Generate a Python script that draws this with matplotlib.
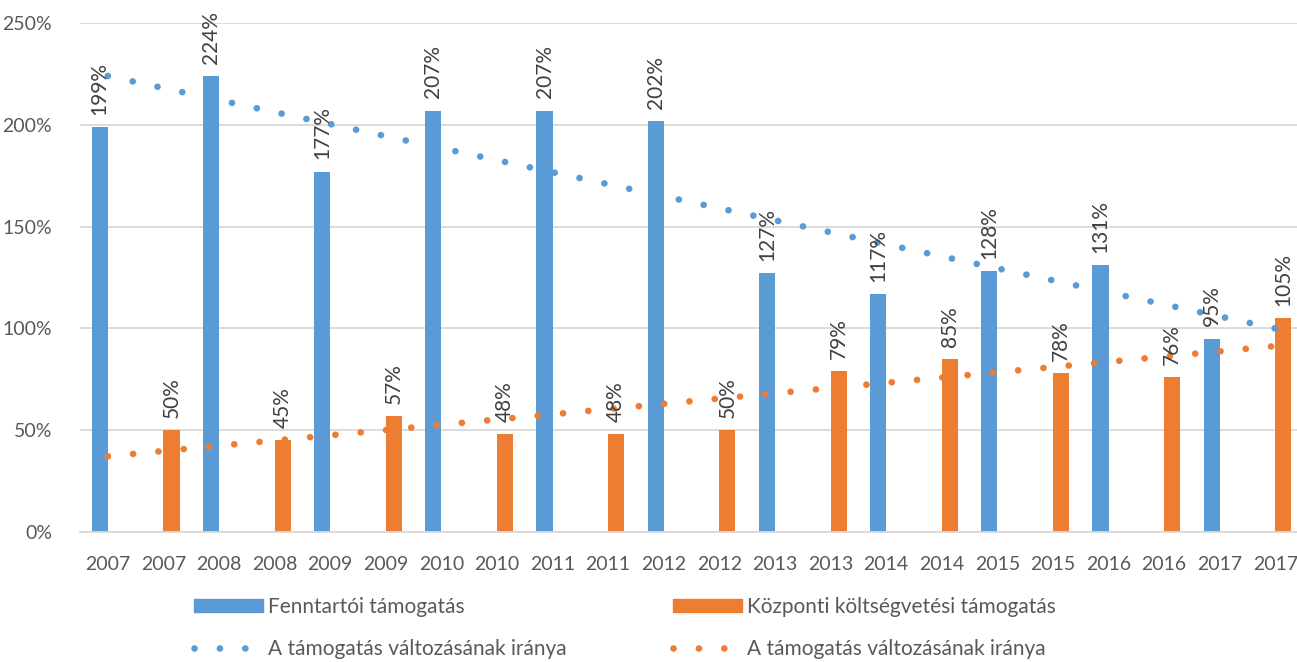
"""
Fenntartói és központi költségvetési támogatás aránya, 2007-2017,
oszlopdiagram lineáris trendvonalakkal.
"""

import matplotlib
matplotlib.use("Agg")
import matplotlib.pyplot as plt
from matplotlib.patches import Patch
from matplotlib.lines import Line2D
import numpy as np

plt.rcParams['font.family'] = ['Lato', 'DejaVu Sans']

categories = ['2007', '2007', '2008', '2008', '2009', '2009', '2010', '2010',
              '2011', '2011', '2012', '2012', '2013', '2013', '2014', '2014',
              '2015', '2015', '2016', '2016', '2017', '2017']

# blue bars sit on even categories, orange bars on odd ones
fenntartoi = [199, 224, 177, 207, 207, 202, 127, 117, 128, 131, 95]
kozponti = [50, 45, 57, 48, 48, 50, 79, 85, 78, 76, 105]

labels = ['Fenntartói támogatás', 'Központi költségvetési támogatás',
          'A támogatás változásának iránya']

BLUE = '#5B9BD5'
ORANGE = '#ED7D31'
TEXT = '#595959'
GRID = '#D9D9D9'

W, H = 1297, 662
fig = plt.figure(figsize=(W / 100, H / 100), dpi=100)
ax = fig.add_axes([80 / W, 130 / H, (W - 80) / W, 509 / H])

x = np.arange(len(categories))
xb = x[0::2]
xo = x[1::2]
bw = 0.29

ax.bar(xb - bw / 2, fenntartoi, width=bw, color=BLUE, zorder=2)
ax.bar(xo + bw / 2, kozponti, width=bw, color=ORANGE, zorder=2)

for xs, vals in [(xb - bw / 2, fenntartoi), (xo + bw / 2, kozponti)]:
    for xi, v in zip(xs, vals):
        ax.text(xi, v + 6, f'{v}%', rotation=90, ha='center', va='bottom',
                fontsize=15, color='#404040', zorder=4)

# linear trend lines over the category positions (like Excel)
dot_style = dict(linewidth=4.8, linestyle=(0, (0.01, 3.8)),
                 dash_capstyle='round')
for xs, ys, c in [(xb, fenntartoi, BLUE), (xo, kozponti, ORANGE)]:
    k, b = np.polyfit(xs, ys, 1)
    ax.plot([x[0], x[-1]], [k * x[0] + b, k * x[-1] + b], color=c,
            zorder=3, **dot_style)

ax.set_xlim(-0.5, 21.39)
ax.set_ylim(0, 250)
ax.set_yticks(np.arange(0, 251, 50))
ax.set_yticklabels([f'{t}%' for t in range(0, 251, 50)])
ax.set_xticks(x)
ax.set_xticklabels(categories)
ax.tick_params(axis='both', length=0, labelsize=14, colors=TEXT)
ax.tick_params(axis='y', pad=20)
ax.tick_params(axis='x', pad=17)

ax.grid(axis='y', color=GRID, linewidth=1.3, zorder=0)
for s in ['top', 'right', 'left']:
    ax.spines[s].set_visible(False)
ax.spines['bottom'].set_color(GRID)
ax.spines['bottom'].set_linewidth(1.3)

# legend, two separate columns
h_blue = [Patch(color=BLUE), Line2D([], [], color=BLUE, **dot_style)]
h_orange = [Patch(color=ORANGE), Line2D([], [], color=ORANGE, **dot_style)]
leg_kw = dict(loc='upper left', frameon=False, fontsize=15,
              handlelength=3.3, handleheight=0.6, handletextpad=0.25,
              labelspacing=1.05, borderpad=0, borderaxespad=0,
              labelcolor=TEXT)
fig.legend(h_blue, [labels[0], labels[2]],
           bbox_to_anchor=(194 / W, 1 - 597 / H), **leg_kw)
fig.legend(h_orange, [labels[1], labels[2]],
           bbox_to_anchor=(673 / W, 1 - 597 / H), **leg_kw)

fig.savefig('out.png', dpi=100)
